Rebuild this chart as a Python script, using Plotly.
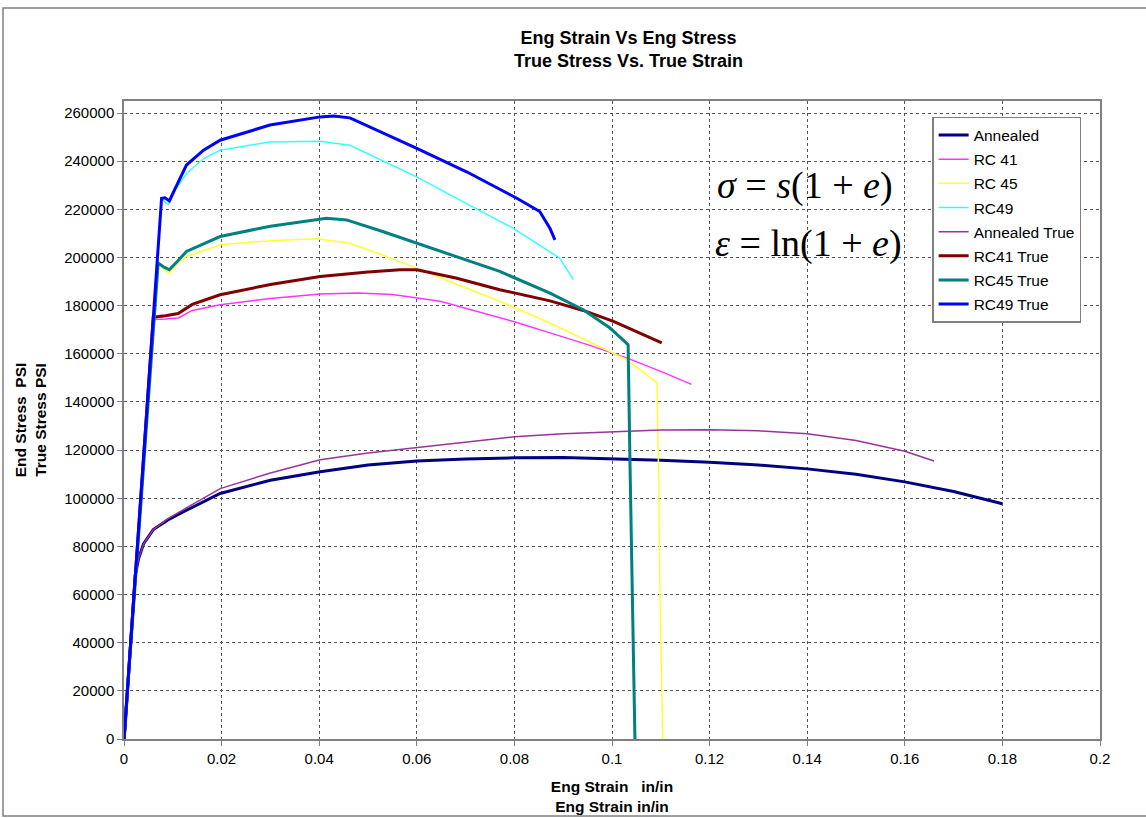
import plotly.graph_objects as go

# ---- data ----
annealed_x = [0, 0.0002, 0.0012, 0.0023, 0.003, 0.004, 0.006, 0.009, 0.0128, 0.0197, 0.03, 0.0402, 0.05, 0.06, 0.07, 0.08, 0.09, 0.1, 0.11, 0.12, 0.13, 0.14, 0.15, 0.16, 0.17, 0.18]
annealed_y = [0, 4000, 35000, 68000, 75000, 81000, 87000, 91000, 95000, 102000, 107500, 111000, 113800, 115500, 116300, 116800, 116900, 116400, 115800, 114900, 113800, 112200, 110000, 106800, 102800, 97700]

rc41_x = [0, 0.006, 0.0085, 0.0111, 0.014, 0.0197, 0.03, 0.0402, 0.048, 0.055, 0.0648, 0.07, 0.08, 0.0873, 0.095, 0.103, 0.11, 0.1163]
rc41_y = [0, 174200, 174400, 174900, 178000, 180400, 183000, 184800, 185300, 184600, 181800, 179000, 173300, 168700, 163800, 158300, 152700, 147300]

rc45_x = [0, 0.007, 0.0082, 0.0093, 0.011, 0.0128, 0.0197, 0.03, 0.0395, 0.0463, 0.053, 0.06, 0.068, 0.077, 0.0873, 0.095, 0.103, 0.1092, 0.1095, 0.1098, 0.1104]
rc45_y = [0, 197700, 195000, 193500, 197500, 200400, 205300, 207000, 207800, 205900, 201000, 195600, 189000, 181800, 172800, 165500, 157600, 148000, 115500, 64500, 0]

rc49_x = [0, 0.0077, 0.0084, 0.0091, 0.0105, 0.0128, 0.0163, 0.0197, 0.0299, 0.0402, 0.0463, 0.0566, 0.06, 0.0675, 0.0798, 0.0893, 0.0921]
rc49_y = [0, 224600, 223000, 222100, 228000, 234900, 241000, 244600, 248000, 248300, 246600, 237000, 233500, 225300, 212100, 199700, 190800]

annealed_true_x = [0, 0.0002, 0.0012, 0.0023, 0.003, 0.004, 0.006, 0.009, 0.0128, 0.0197, 0.03, 0.0402, 0.05, 0.06, 0.07, 0.08, 0.09, 0.1, 0.11, 0.12, 0.13, 0.14, 0.15, 0.16, 0.166]
annealed_true_y = [0, 4000, 35000, 68000, 75000, 81000, 87000, 91500, 96000, 104000, 110500, 116000, 118800, 121000, 123500, 125500, 126800, 127700, 128300, 128500, 128000, 126800, 124000, 119500, 115500]

rc41_true_x = [0, 0.006, 0.0085, 0.0111, 0.014, 0.0197, 0.03, 0.0402, 0.05, 0.0566, 0.06, 0.068, 0.077, 0.0873, 0.0941, 0.1003, 0.1102]
rc41_true_y = [0, 175200, 175800, 176700, 180500, 184500, 188800, 192100, 194000, 194900, 194900, 191500, 186600, 182000, 178000, 173500, 164500]

rc45_true_x = [0, 0.007, 0.0082, 0.0093, 0.011, 0.0128, 0.0197, 0.03, 0.0415, 0.0456, 0.053, 0.06, 0.068, 0.077, 0.0873, 0.0941, 0.0996, 0.1033, 0.1037, 0.1042, 0.1047]
rc45_true_y = [0, 197700, 196000, 194900, 198500, 202500, 208700, 213000, 216300, 215600, 210800, 205900, 200300, 194200, 185200, 178300, 170700, 163800, 112800, 50600, 0]

rc49_true_x = [0, 0.0077, 0.0084, 0.0093, 0.0105, 0.0128, 0.0163, 0.0197, 0.0299, 0.0402, 0.0429, 0.0463, 0.06, 0.0702, 0.0805, 0.0852, 0.0873, 0.0883]
rc49_true_y = [0, 224600, 224800, 223500, 228700, 238400, 244600, 248700, 255000, 258400, 258800, 258000, 245300, 235600, 224600, 219100, 212100, 207300]

series_names = ["Annealed", "RC 41", "RC 45", "RC49", "Annealed True", "RC41 True", "RC45 True", "RC49 True"]
series_x = [annealed_x, rc41_x, rc45_x, rc49_x, annealed_true_x, rc41_true_x, rc45_true_x, rc49_true_x]
series_y = [annealed_y, rc41_y, rc45_y, rc49_y, annealed_true_y, rc41_true_y, rc45_true_y, rc49_true_y]
series_colors = ["#000080", "#FF33FF", "#FFFF33", "#33FFFF", "#993399", "#800000", "#008080", "#0000FF"]
series_widths = [3, 1.5, 1.5, 1.5, 1.5, 3, 3, 3]

x_ticks = [0, 0.02, 0.04, 0.06, 0.08, 0.1, 0.12, 0.14, 0.16, 0.18, 0.2]
x_ticktext = ["0", "0.02", "0.04", "0.06", "0.08", "0.1", "0.12", "0.14", "0.16", "0.18", "0.2"]
y_ticks = list(range(0, 260001, 20000))

fig = go.Figure()
for name, xs, ys, c, w in zip(series_names, series_x, series_y, series_colors, series_widths):
    fig.add_trace(go.Scatter(x=xs, y=ys, mode="lines", name=name, legendgroup=name,
                             line=dict(color=c, width=w)))

grid = dict(showgrid=True, gridcolor="#555555", griddash="dot", gridwidth=1.2,
            showline=True, linecolor="#808080", linewidth=1.5, mirror=True,
            ticks="outside", ticklen=5, tickcolor="#808080", zeroline=False,
            tickfont=dict(family="Arial, Liberation Sans", size=15, color="black"))

fig.update_layout(
    width=1146, height=818,
    paper_bgcolor="white", plot_bgcolor="white",
    margin=dict(l=124, r=46, t=101, b=79, autoexpand=False),
    font=dict(family="Arial, Liberation Sans", color="black"),
    title=dict(text="<b>Eng Strain Vs Eng Stress</b><br><b>True Stress Vs. True Strain</b>",
               x=0.5484, xref="container", y=1 - 44 / 818, yref="container",
               xanchor="center", yanchor="middle",
               font=dict(family="Arial, Liberation Sans", size=18, color="black")),
    xaxis=dict(range=[0, 0.2], tickvals=x_ticks, ticktext=x_ticktext,
               title=dict(text="<b>Eng Strain &nbsp; in/in</b><br><b>Eng Strain in/in</b>",
                          font=dict(size=15.5), standoff=15),
               automargin=False, **grid),
    yaxis=dict(range=[0, 265000], tickvals=y_ticks, tickformat="d",
               title=dict(text="<b>End Stress &nbsp;PSI</b><br><b>True Stress PSI</b>",
                          font=dict(size=15.5), standoff=14),
               automargin=False, **grid),
    legend=dict(x=0.828, y=0.975, xanchor="left", yanchor="top",
                bgcolor="white", bordercolor="#808080", borderwidth=1.5,
                font=dict(family="Arial, Liberation Sans", size=15.5, color="black"),
                tracegroupgap=1, itemwidth=30),
    showlegend=True,
)

# formulas
fig.add_annotation(text="<i>σ</i> = <i>s</i>(1 + <i>e</i>)", xref="paper", yref="paper",
                   x=0.698, y=0.868, showarrow=False, xanchor="center", yanchor="middle",
                   font=dict(family="Liberation Serif, Times New Roman, serif", size=38, color="black"))
fig.add_annotation(text="<i>ε</i> = ln(1 + <i>e</i>)", xref="paper", yref="paper",
                   x=0.701, y=0.777, showarrow=False, xanchor="center", yanchor="middle",
                   font=dict(family="Liberation Serif, Times New Roman, serif", size=38, color="black"))

# outer chart frame
fig.add_shape(type="rect", xref="paper", yref="paper",
              x0=-121 / 976, x1=1041 / 976, y0=-77 / 638, y1=731 / 638,
              line=dict(color="#808080", width=1.5), fillcolor="rgba(0,0,0,0)", layer="below")

fig.write_html("out.html", config={"displayModeBar": False},
               post_script="document.body.style.margin='0';document.body.style.padding='0';")
